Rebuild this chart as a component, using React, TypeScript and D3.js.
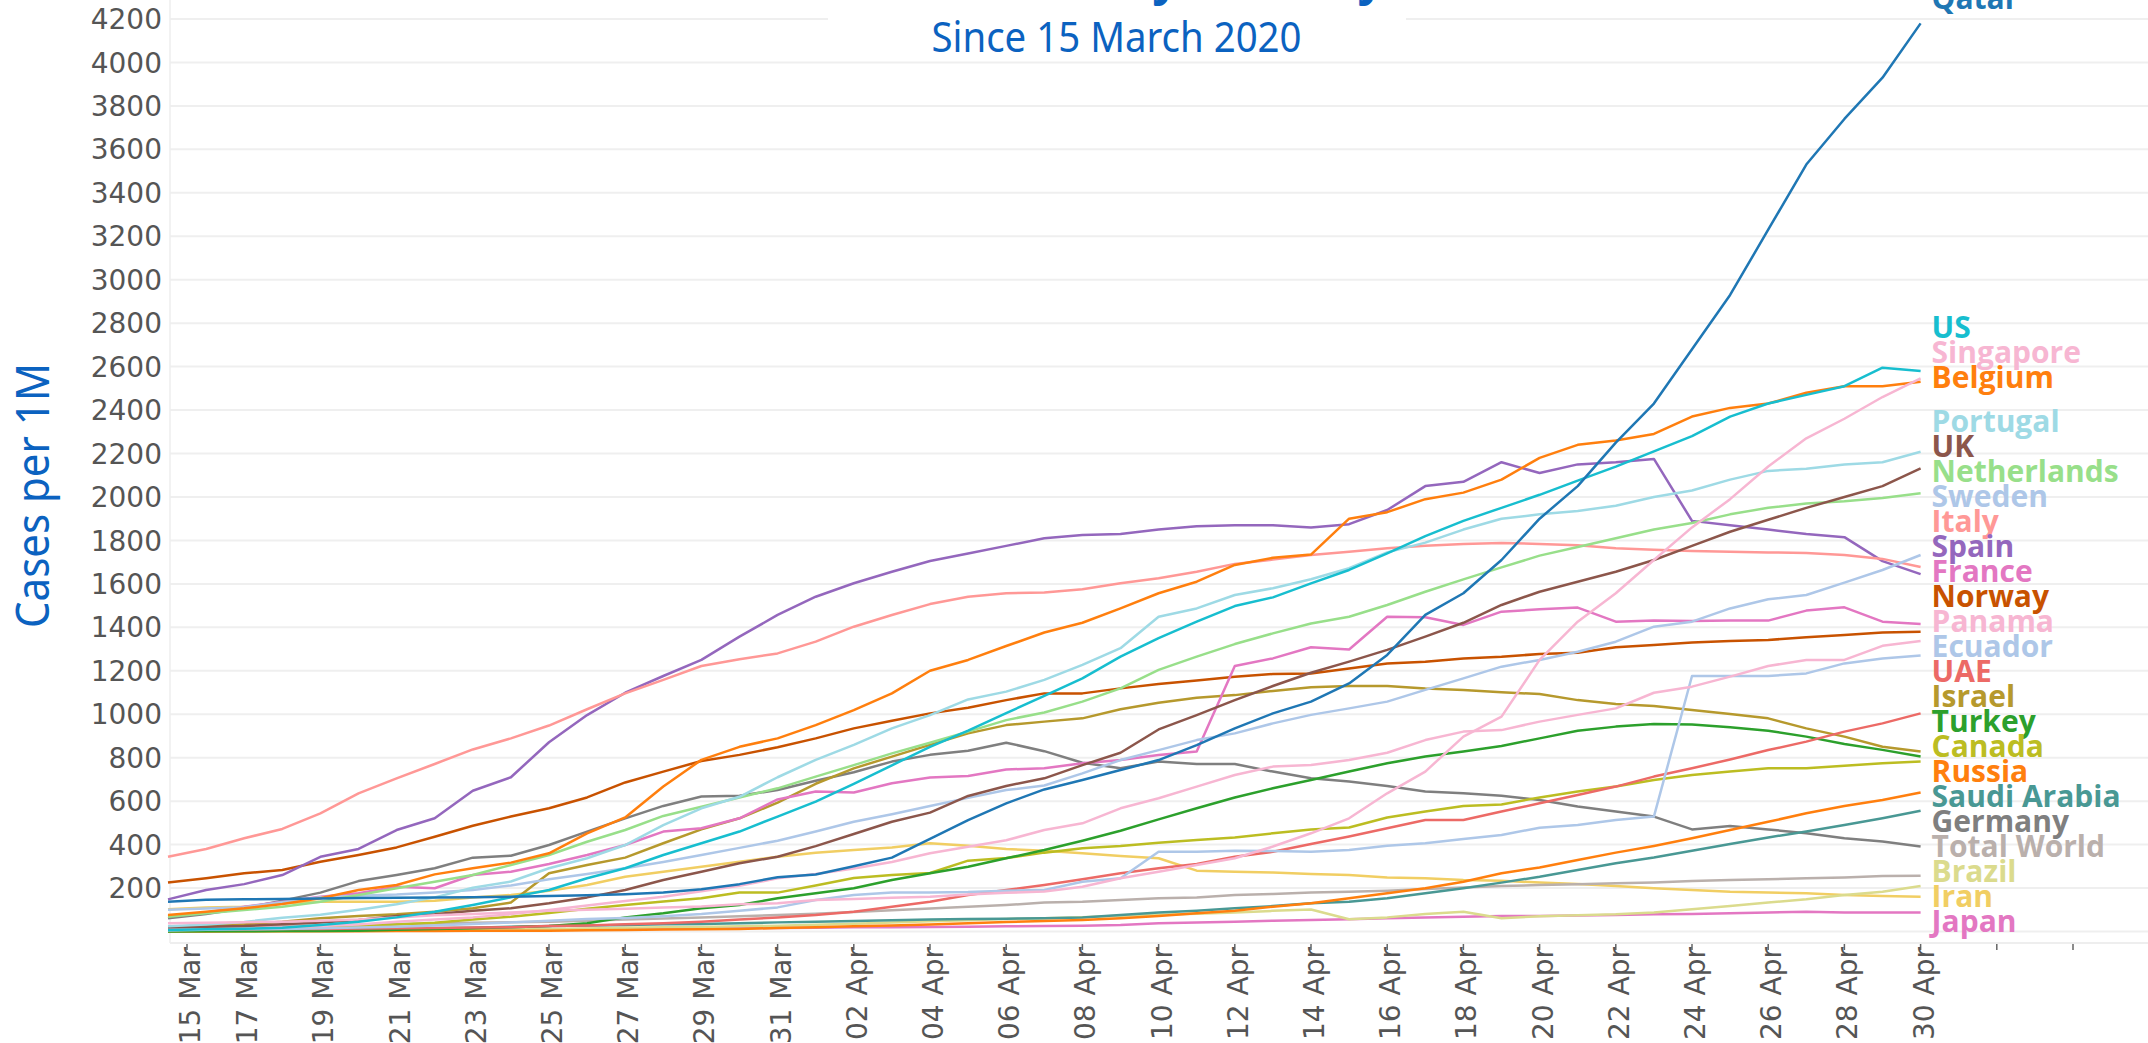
import React from 'react';
import * as d3 from 'd3';

const W = 2148;
const H = 1043;

// 15 Mar .. 30 Apr 2020, one value per day
const dates = d3.timeDay.range(new Date(2020, 2, 15), new Date(2020, 4, 1));
const yTicks = d3.range(200, 4201, 200);

const countries = ["Qatar", "US", "Singapore", "Belgium", "Portugal", "UK", "Netherlands", "Sweden", "Italy", "Spain",
  "France", "Norway", "Panama", "Ecuador", "UAE", "Israel", "Turkey", "Canada", "Russia", "Saudi Arabia",
  "Germany", "Total World", "Brazil", "Iran", "Japan"];

const colors = ["#1f77b4", "#17becf", "#f7b6d2", "#ff7f0e", "#9edae5", "#8c564b", "#98df8a", "#aec7e8", "#ff9896", "#9467bd",
  "#e377c2", "#c85200", "#f7b6d2", "#aec7e8", "#ec6a66", "#b6992d", "#2ca02c", "#bcbd22", "#ff7f0e", "#499894",
  "#7f7f7f", "#bab0ac", "#dbdb8d", "#f1ce63", "#e377c2"];

const qatar = [137,146,148,150,152,154,155,156,158,160,163,167,172,180,194,218,250,262,300,340,426,513,590,654,697,743,789,858,935,1004,1058,1142,1273,1457,1557,1710,1900,2050,2250,2430,2680,2930,3230,3530,3740,3930,4180];
const us = [7,10,13,17,30,45,65,91,122,157,191,245,291,352,406,460,529,598,680,765,850,925,1005,1085,1165,1265,1350,1426,1498,1538,1602,1664,1740,1820,1890,1950,2010,2075,2140,2210,2280,2370,2430,2470,2510,2595,2580];
const singapore = [38,40,43,45,50,55,65,75,80,88,95,100,105,110,115,125,130,145,150,155,160,170,178,184,206,245,275,306,337,391,452,521,636,736,897,989,1250,1426,1557,1710,1860,1990,2140,2270,2360,2460,2546];
const belgium = [76,91,107,127,153,191,214,263,291,317,360,452,525,667,790,850,889,950,1019,1096,1200,1250,1314,1376,1421,1487,1557,1610,1687,1720,1735,1900,1930,1990,2020,2080,2180,2240,2260,2290,2370,2410,2430,2480,2510,2510,2530];
const portugal = [24,32,44,63,77,100,125,157,201,230,291,337,398,490,567,620,710,790,859,935,996,1068,1104,1158,1227,1304,1449,1487,1549,1580,1621,1672,1745,1790,1850,1900,1920,1935,1960,2000,2030,2080,2120,2130,2150,2160,2208];
const uk = [19,22,25,33,41,53,71,79,96,107,130,157,191,237,275,314,344,393,449,505,547,624,670,705,766,823,930,996,1065,1130,1191,1242,1296,1357,1421,1503,1564,1610,1656,1710,1775,1840,1895,1950,2000,2050,2132];
const netherlands = [68,84,99,114,137,168,199,229,260,306,352,413,467,532,574,617,659,713,766,820,869,920,973,1008,1058,1119,1204,1265,1323,1372,1418,1449,1503,1564,1621,1676,1730,1770,1810,1850,1880,1920,1950,1970,1980,1995,2017];
const sweden = [100,106,112,135,158,165,170,180,191,212,240,265,291,320,352,385,418,460,505,540,578,615,651,672,728,789,835,881,912,958,997,1027,1058,1112,1165,1219,1250,1288,1334,1403,1426,1487,1529,1549,1606,1664,1733];
const italy = [344,380,429,472,544,636,705,771,838,889,948,1023,1096,1158,1222,1253,1280,1334,1403,1457,1507,1541,1557,1560,1575,1603,1626,1656,1692,1712,1733,1748,1764,1775,1784,1788,1784,1778,1764,1757,1751,1748,1745,1742,1733,1715,1678];
const spain = [148,191,218,260,344,380,467,521,648,710,871,996,1099,1176,1250,1357,1457,1541,1603,1656,1705,1740,1775,1810,1825,1830,1850,1865,1870,1870,1860,1875,1940,2050,2070,2160,2110,2150,2160,2175,1890,1870,1850,1830,1815,1705,1645];
const france = [71,87,114,137,160,176,206,199,260,275,311,352,398,460,475,521,608,644,640,682,709,716,746,751,774,789,812,828,1222,1257,1308,1298,1449,1446,1411,1472,1483,1491,1426,1431,1429,1431,1431,1477,1492,1426,1415];
const norway = [225,245,268,283,321,352,387,436,487,529,567,617,686,736,785,813,848,889,935,970,1004,1030,1065,1096,1096,1119,1139,1155,1173,1185,1188,1211,1234,1242,1257,1265,1277,1283,1308,1319,1330,1337,1342,1354,1365,1376,1380];
const panama = [8,10,16,20,25,32,45,55,65,80,99,120,140,160,185,210,245,265,290,320,360,390,420,467,498,567,613,667,720,759,766,789,823,881,920,927,966,997,1027,1099,1127,1173,1222,1250,1250,1315,1337];
const ecuador = [5,8,10,12,15,18,22,28,35,42,50,57,62,70,80,95,111,145,168,179,180,182,188,191,229,245,367,367,372,370,367,375,395,406,426,444,478,490,513,529,1176,1176,1176,1188,1234,1257,1270];
const uae = [9,10,10,12,12,14,15,16,18,20,25,28,33,38,45,55,65,76,91,114,137,168,191,214,240,268,291,311,344,367,403,437,475,513,513,552,590,628,667,713,751,792,835,874,920,958,1004];
const israel = [22,25,34,45,61,71,79,91,107,133,268,306,340,406,470,521,593,680,751,805,859,912,950,966,981,1023,1053,1076,1088,1107,1124,1130,1130,1119,1112,1101,1093,1065,1047,1038,1019,1001,981,935,897,850,828];
const turkey = [0,1,1,2,2,4,8,12,15,20,25,38,65,84,107,122,153,176,199,237,268,298,337,375,418,464,516,567,617,659,697,736,774,805,828,854,889,924,943,955,953,940,924,897,863,836,805];
const canada = [7,9,12,16,20,25,32,40,55,68,85,105,122,138,153,179,179,212,246,260,269,326,338,363,383,394,409,421,433,452,470,479,525,552,578,585,617,644,667,697,720,736,751,751,763,774,782];
const russia = [0,0,1,1,1,1,2,2,3,4,4,6,7,9,10,12,16,19,24,28,32,38,44,48,53,61,71,84,96,114,130,153,176,199,229,268,295,329,363,394,429,467,505,544,578,605,640];
const saudiArabia = [3,4,4,6,8,10,12,15,17,22,25,28,30,33,35,38,42,45,48,52,55,57,59,61,65,76,87,96,107,117,130,137,153,176,199,225,252,283,314,341,372,403,433,460,490,521,556];
const germany = [61,81,107,142,179,232,260,291,340,349,398,460,521,578,621,625,651,694,733,782,813,832,869,830,777,751,782,771,771,736,705,690,670,644,636,625,605,575,552,529,470,486,470,452,429,414,391];
const totalWorld = [21,22,24,26,28,31,34,37,40,43,45,50,55,60,65,70,76,82,90,98,106,114,122,133,137,145,153,157,168,173,179,183,188,196,202,209,214,217,222,226,232,237,240,245,249,255,257];
const brazil = [0,1,1,2,3,4,5,6,8,10,12,14,17,19,21,24,27,31,36,41,47,52,57,61,66,72,77,82,88,95,101,56,65,81,91,61,70,75,79,87,102,117,133,148,168,183,209];
const iran = [102,111,114,130,137,137,137,142,157,168,188,214,252,275,298,321,344,363,375,387,406,395,380,372,360,348,337,280,275,271,265,260,249,245,237,234,225,219,209,199,191,183,179,176,168,163,160];
const japan = [6,6,7,7,8,8,8,9,9,10,10,11,12,13,14,15,16,17,19,20,21,22,24,25,27,30,38,41,45,50,53,56,61,65,68,71,71,74,76,79,81,84,87,91,88,87,87];

const seriesValues = [qatar, us, singapore, belgium, portugal, uk, netherlands, sweden, italy, spain,
  france, norway, panama, ecuador, uae, israel, turkey, canada, russia, saudiArabia,
  germany, totalWorld, brazil, iran, japan];

const BLUE = "#0b62c0";
const AXIS_FONT = "'DejaVu Sans', sans-serif";

// 1D label dodge: merge overlapping clusters, keep each cluster centred on its targets
function dodge(targets, gap, maxY) {
  const order = targets.map((t, i) => i).sort((a, b) => targets[a] - targets[b]);
  const clusters = [];
  order.forEach(idx => {
    clusters.push({ items: [idx], top: targets[idx] });
    while (clusters.length > 1) {
      const last = clusters[clusters.length - 1];
      const prev = clusters[clusters.length - 2];
      if (prev.top + prev.items.length * gap <= last.top) break;
      const items = prev.items.concat(last.items);
      const top = d3.mean(items, (id, k) => targets[id] - k * gap);
      clusters.splice(clusters.length - 2, 2, { items, top });
    }
  });
  // bottom bound
  for (let c = clusters.length - 1; c >= 0; c--) {
    const cl = clusters[c];
    const limit = c === clusters.length - 1 ? maxY : clusters[c + 1].top - gap;
    cl.top = Math.min(cl.top, limit - (cl.items.length - 1) * gap);
  }
  const out = new Array(targets.length);
  clusters.forEach(cl => cl.items.forEach((id, k) => { out[id] = cl.top + k * gap; }));
  return out;
}

export default function App() {
  const x = d3.scaleTime()
    .domain([new Date(2020, 2, 15), new Date(2020, 4, 6)])
    .range([168, 168 + 52 * 38.1]);
  const y = d3.scaleLinear().domain([0, 4200]).range([931.5, 19]);

  const line = d3.line()
    .x((d, i) => x(dates[i]))
    .y(d => y(d));

  const tickDates = d3.timeDay.range(new Date(2020, 2, 15), new Date(2020, 4, 6), 2);
  const fmt = d3.timeFormat("%d %b");
  const lastDate = dates[dates.length - 1];

  const labelTargets = seriesValues.map(v => y(v[v.length - 1]) - 14);
  const labelY = dodge(labelTargets, 25, 932);

  return (
    <svg width={W} height={H} style={{ position: 'absolute', left: 0, top: 0, background: '#fff' }}>
      {/* gridlines */}
      <g>
        {[0, ...yTicks].map(t => (
          <line key={t} x1={170} x2={W} y1={y(t)} y2={y(t)} stroke="#efefef" strokeWidth={2} />
        ))}
        <line x1={170} x2={W} y1={943} y2={943} stroke="#e8e8e8" strokeWidth={1.5} />
        <line x1={170} x2={170} y1={0} y2={943} stroke="#eeeeee" strokeWidth={1.5} />
      </g>

      {/* title block, the main title sits above the top edge, only its descenders show */}
      <rect x={828} y={0} width={578} height={55} fill="#fff" />
      <text x={1385} y={-6} textAnchor="end" fontFamily="'Noto Sans', sans-serif" fontWeight={700}
        fontSize={48} fill={BLUE}>Active Cases by Country</text>
      <text x={1116.5} y={51.5} textAnchor="middle" fontFamily="'Noto Sans', sans-serif" fontSize={42}
        fill={BLUE} textLength={370} lengthAdjust="spacingAndGlyphs">Since 15 March 2020</text>

      {/* y axis */}
      <g fontFamily={AXIS_FONT} fontSize={28} fill="#555">
        {yTicks.map(t => (
          <text key={t} x={162} y={y(t)} dy="0.36em" textAnchor="end">{t}</text>
        ))}
      </g>
      <text transform="translate(49,495.5) rotate(-90)" textAnchor="middle" fontFamily="'Noto Sans', sans-serif"
        fontSize={45} fill={BLUE} textLength={265} lengthAdjust="spacingAndGlyphs">Cases per 1M</text>

      {/* x axis */}
      <g>
        {tickDates.map((d, i) => {
          const lx = Math.max(x(d), 187);
          return (
            <g key={i}>
              <line x1={lx} x2={lx} y1={944} y2={950} stroke="#666" strokeWidth={1.5} />
              {d <= lastDate && (
                <text transform={`translate(${lx + 3},947) rotate(-90)`} textAnchor="end" dy="0.36em"
                  fontFamily={AXIS_FONT} fontSize={28} fill="#555">{fmt(d)}</text>
              )}
            </g>
          );
        })}
      </g>

      {/* series */}
      <g fill="none" strokeWidth={2.5} strokeLinejoin="round">
        {seriesValues.map((v, i) => i).reverse().map(i => (
          <path key={countries[i]} d={line(seriesValues[i])} stroke={colors[i]} />
        ))}
      </g>

      {/* end labels */}
      <g fontFamily="'Open Sans', sans-serif" fontWeight={700} fontSize={30}>
        {countries.map((c, i) => (
          <text key={c} x={x(lastDate) + 11} y={labelY[i]} fill={colors[i]}>{c}</text>
        ))}
      </g>
    </svg>
  );
}
